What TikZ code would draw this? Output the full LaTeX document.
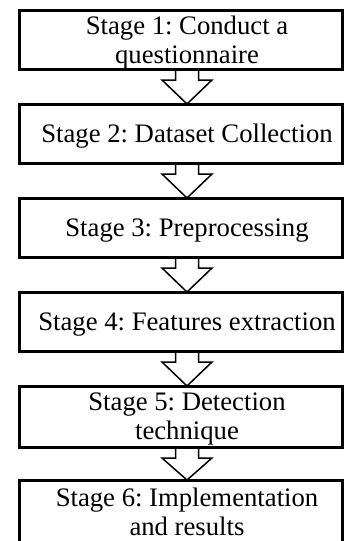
\documentclass[tikz,border=0pt]{standalone}
\usepackage{fontspec}
\setmainfont{Liberation Serif}
\usepackage{tikz}
\usetikzlibrary{calc}
\frenchspacing

\tikzset{
	stagebox/.style={draw, line width=1.5pt, outer sep=0pt, minimum width=161.75pt, minimum height=29.5pt},
	stagetext/.style={align=center, font=\fontsize{13.35}{14.4}\selectfont, xshift=3.125pt, yshift=-1.4pt},
	stagearrow/.style={line width=0.75pt, line join=miter}
}

% block arrow from the bottom of #1 to the top of #2
\newcommand{\stagearrow}[2]{%
	\draw[stagearrow] ($(#1.south)+(-5.25,0)$) -- ++(0,11) -- ++(-13.5,0)
		-- ($(#2.north)+(6.25,0)$) -- ($(#1.south)+(31.25,11)$) -- ++(-13.5,0) -- ++(0,-11);
}

\begin{document}
\begin{tikzpicture}[x=0.5pt, y=-0.5pt]
	\useasboundingbox (0,0) rectangle (344,541);

	\node[stagebox, label={[stagetext]center:{Stage 1: Conduct a\\questionnaire}}] (s1) at (180.75,39.5) {};
	\node[stagebox, label={[stagetext]center:{Stage 2: Dataset Collection}}] (s2) at (180.75,133.5) {};
	\node[stagebox, label={[stagetext]center:{Stage 3: Preprocessing}}] (s3) at (180.75,227.5) {};
	\node[stagebox, label={[stagetext]center:{Stage 4: Features extraction}}] (s4) at (180.75,321.5) {};
	\node[stagebox, minimum height=30.5pt, label={[stagetext]center:{Stage 5: Detection\\technique}}] (s5) at (180.75,416.5) {};
	\node[stagebox, minimum height=31pt, label={[stagetext, yshift=0.9pt]center:{Stage 6: Implementation\\and results}}] (s6) at (180.75,511) {};

	\stagearrow{s1}{s2}
	\stagearrow{s2}{s3}
	\stagearrow{s3}{s4}
	\stagearrow{s4}{s5}
	\stagearrow{s5}{s6}
\end{tikzpicture}
\end{document}
